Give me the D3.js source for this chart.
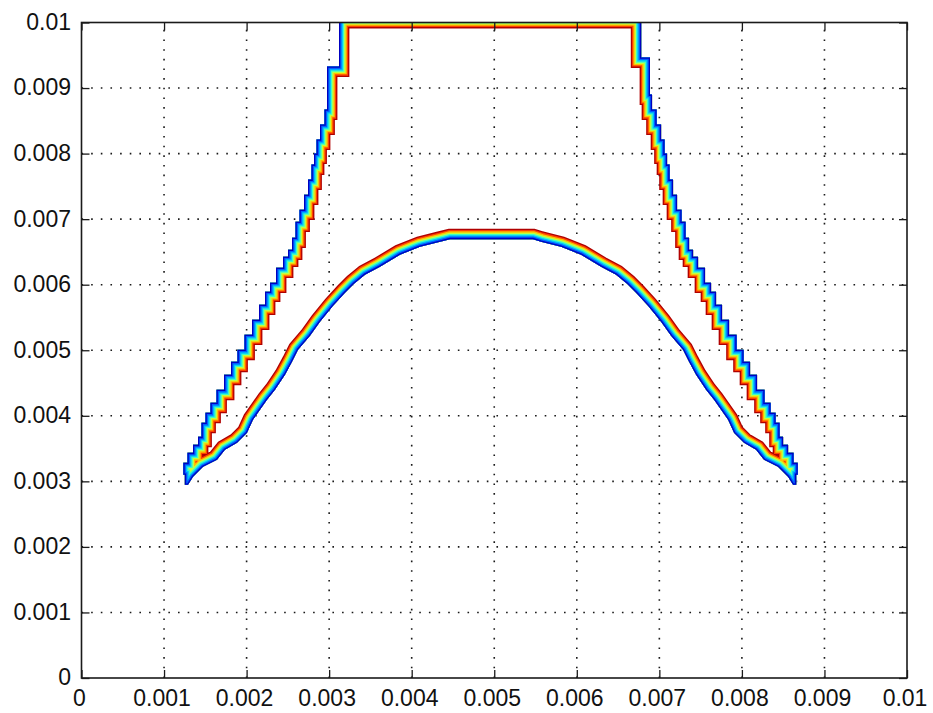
<!DOCTYPE html>
<html>
<head>
<meta charset="utf-8">
<script src="https://cdn.jsdelivr.net/npm/d3@7"></script>
<style>
  body { margin: 0; background: #fff; }
  svg { display: block; }
</style>
</head>
<body>
<svg id="chart" width="933" height="713"></svg>
<script>
// ---- axis ticks ----
const xTicks = [0, 0.001, 0.002, 0.003, 0.004, 0.005, 0.006, 0.007, 0.008, 0.009, 0.01];
const yTicks = [0, 0.001, 0.002, 0.003, 0.004, 0.005, 0.006, 0.007, 0.008, 0.009, 0.01];
const tickLabels = ["0", "0.001", "0.002", "0.003", "0.004", "0.005", "0.006", "0.007", "0.008", "0.009", "0.01"];

// ---- outer boundary of the contoured region, traced in data units ----
// left flank of the upper curve, from the lower-left tip up to the top
const upperLeft = [
  [0.001290,0.002947],[0.001214,0.003099],[0.001254,0.003282],[0.001314,0.003435],[0.001387,0.003557],
  [0.001435,0.003679],[0.001472,0.003893],[0.001532,0.004046],[0.001593,0.004198],[0.001678,0.004397],
  [0.001775,0.004626],[0.001847,0.004824],[0.001932,0.005008],[0.002017,0.005237],[0.002114,0.005466],
  [0.002187,0.005695],[0.002259,0.005893],[0.002308,0.006031],[0.002405,0.006260],[0.002477,0.006427],
  [0.002526,0.006534],[0.002574,0.006718],[0.002611,0.006962],[0.002671,0.007145],[0.002720,0.007374],
  [0.002768,0.007603],[0.002804,0.007832],[0.002829,0.008000],[0.002865,0.008214],[0.002913,0.008443],
  [0.002974,0.008672],[0.002974,0.009328],[0.003119,0.009328],[0.003119,0.010069]
];
// right flank of the upper curve, from the top down to the lower-right tip
const upperRight = [
  [0.006780,0.010069],[0.006780,0.009466],[0.006887,0.009466],[0.006887,0.008900],[0.006936,0.008672],
  [0.006997,0.008443],[0.007045,0.008214],[0.007081,0.008000],[0.007106,0.007832],[0.007142,0.007603],
  [0.007190,0.007374],[0.007239,0.007145],[0.007299,0.006962],[0.007336,0.006718],[0.007384,0.006534],
  [0.007433,0.006427],[0.007505,0.006260],[0.007602,0.006031],[0.007651,0.005893],[0.007723,0.005695],
  [0.007796,0.005466],[0.007893,0.005237],[0.007978,0.005008],[0.008063,0.004824],[0.008135,0.004626],
  [0.008232,0.004397],[0.008317,0.004198],[0.008378,0.004046],[0.008438,0.003893],[0.008475,0.003679],
  [0.008523,0.003557],[0.008596,0.003435],[0.008656,0.003282],[0.008696,0.003099],[0.008620,0.002947]
];
// underside of the dome, right half, from the tip back towards the crest
const domeRight = [
  [0.008559,0.003069],[0.008438,0.003221],[0.008269,0.003328],[0.008172,0.003481],[0.008026,0.003588],
  [0.007905,0.003740],[0.007833,0.003939],[0.007748,0.004092],[0.007663,0.004244],[0.007566,0.004397],
  [0.007445,0.004626],[0.007360,0.004824],[0.007287,0.005008],[0.007142,0.005221],[0.007021,0.005435],
  [0.006863,0.005679],[0.006718,0.005878],[0.006609,0.006015],[0.006476,0.006153],[0.006294,0.006275],
  [0.006052,0.006458],[0.005809,0.006580],[0.005567,0.006656],[0.005469,0.006695]
];
// underside of the dome, left half, from the crest to the left tip
const domeLeft = [
  [0.004464,0.006695],[0.004343,0.006656],[0.004101,0.006580],[0.003858,0.006458],[0.003616,0.006275],
  [0.003434,0.006153],[0.003301,0.006015],[0.003192,0.005878],[0.003047,0.005679],[0.002889,0.005435],
  [0.002768,0.005221],[0.002623,0.005008],[0.002550,0.004824],[0.002465,0.004626],[0.002344,0.004397],
  [0.002247,0.004244],[0.002162,0.004092],[0.002077,0.003939],[0.002005,0.003740],[0.001884,0.003588],
  [0.001738,0.003481],[0.001641,0.003328],[0.001472,0.003221],[0.001351,0.003069]
];

// contour level colours, lowest (outermost) to highest (innermost)
const levelColors = ["#0000c0", "#0060ff", "#00c0ff", "#40ffc0", "#c0ff40", "#ffc000", "#ff4000", "#b00000"];

// ---- layout ----
const plotLeft = 81.5, plotRight = 907, plotTop = 22.5, plotBottom = 678;

const svg = d3.select("#chart");
const x = d3.scaleLinear().domain([0, 0.01]).range([plotLeft, plotRight]);
const y = d3.scaleLinear().domain([0, 0.01]).range([plotBottom, plotTop]);

const font = "'Liberation Sans', Arial, Helvetica, sans-serif";

// plot-area clip
const defs = svg.append("defs");
defs.append("clipPath").attr("id", "plotClip")
  .append("rect").attr("x", plotLeft).attr("y", plotTop)
  .attr("width", plotRight - plotLeft).attr("height", plotBottom - plotTop);

// ---- dotted grid ----
const grid = svg.append("g")
  .attr("stroke", "#1a1a1a").attr("stroke-width", 1.6)
  .attr("stroke-dasharray", "1.6,8.05");
grid.selectAll("line.gx").data(xTicks.slice(1, -1)).join("line")
  .attr("class", "gx")
  .attr("x1", d => x(d)).attr("x2", d => x(d))
  .attr("y1", plotBottom).attr("y2", plotTop);
grid.selectAll("line.gy").data(yTicks.slice(1, -1)).join("line")
  .attr("class", "gy")
  .attr("y1", d => y(d)).attr("y2", d => y(d))
  .attr("x1", plotLeft).attr("x2", plotRight);

// ---- contour band ----
// the steep flanks run as a staircase on the grid, the dome underside as a polyline
const stepLine = d3.line().x(d => x(d[0])).y(d => y(d[1])).curve(d3.curveStep);
const polyLine = d3.line().x(d => x(d[0])).y(d => y(d[1]));
const joinAsLine = (p) => "L" + p.slice(1);
const ringPath =
  stepLine(upperLeft) +
  joinAsLine(stepLine(upperRight)) +
  joinAsLine(polyLine(domeRight.concat(domeLeft, [upperLeft[0]]))) + "Z";

defs.append("clipPath").attr("id", "ringClip")
  .append("path").attr("d", ringPath);

const band = svg.append("g").attr("clip-path", "url(#plotClip)")
  .append("g").attr("clip-path", "url(#ringClip)");

const levelStep = 1.3; // spacing between neighbouring contour levels, px
// highest level drawn widest first; each lower level sits nearer the boundary
levelColors.slice().reverse().forEach((c, i) => {
  const k = levelColors.length - i;
  band.append("path")
    .attr("d", ringPath)
    .attr("fill", "none")
    .attr("stroke", c)
    .attr("stroke-width", 2 * k * levelStep)
    .attr("stroke-linejoin", "miter")
    .attr("stroke-miterlimit", 3);
});

// ---- axes ----
const styleAxis = (g) => {
  g.select(".domain").remove();
  g.selectAll(".tick line").attr("stroke", "#1a1a1a").attr("stroke-width", 1.3);
  g.selectAll("text").attr("fill", "#111").style("font-family", font).style("font-size", "23px");
};

svg.append("g").attr("transform", `translate(0,${plotBottom})`)
  .call(d3.axisBottom(x).tickValues(xTicks).tickFormat((d, i) => tickLabels[i])
    .tickSizeInner(-8).tickSizeOuter(0).tickPadding(12))
  .call(styleAxis)
  .call(g => g.selectAll("text").attr("dx", -2.5));

svg.append("g").attr("transform", `translate(0,${plotTop})`)
  .call(d3.axisTop(x).tickValues(xTicks).tickFormat("").tickSizeInner(-8).tickSizeOuter(0))
  .call(styleAxis);

svg.append("g").attr("transform", `translate(${plotLeft},0)`)
  .call(d3.axisLeft(y).tickValues(yTicks).tickFormat((d, i) => tickLabels[i])
    .tickSizeInner(-8).tickSizeOuter(0).tickPadding(10.5))
  .call(styleAxis)
  .call(g => g.selectAll("text").attr("dy", "0.30em"));

svg.append("g").attr("transform", `translate(${plotRight},0)`)
  .call(d3.axisRight(y).tickValues(yTicks).tickFormat("").tickSizeInner(-8).tickSizeOuter(0))
  .call(styleAxis);

// axes box
svg.append("rect")
  .attr("x", plotLeft).attr("y", plotTop)
  .attr("width", plotRight - plotLeft).attr("height", plotBottom - plotTop)
  .attr("fill", "none").attr("stroke", "#1a1a1a").attr("stroke-width", 1.6);
</script>
</body>
</html>
